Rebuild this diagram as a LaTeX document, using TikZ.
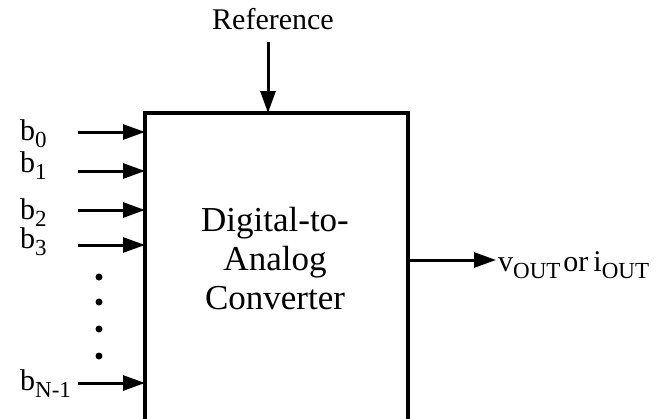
\documentclass[tikz,border=0pt]{standalone}
\usepackage{fontspec}
\setmainfont{Liberation Serif}
\usetikzlibrary{arrows.meta}
\newcommand{\lowsub}[1]{\raisebox{-7pt}{\fontsize{23}{23}\selectfont #1}}
\begin{document}
\begin{tikzpicture}[x=1pt,y=-1pt,
  inarrow/.style={line width=3pt,-{Triangle[length=22pt,width=15pt]}},
  lbl/.style={font=\fontsize{30}{30}\selectfont,inner sep=0pt},
  dotmark/.style={circle,fill=black,inner sep=0pt,minimum size=7pt}]
\useasboundingbox (0,0) rectangle (658,418);
\draw[line width=4.5pt] (145,430) -- (145,113) -- (408,113) -- (408,430);
\coordinate (boxtop) at (268,113);
\node[font=\fontsize{35}{39}\selectfont,align=center] (dac) at (275,259) {Digital-to-\\Analog\\Converter};
\node[lbl,anchor=base] (ref) at (273,29) {Reference};
\coordinate (reftop) at (268,42);
\draw[inarrow] (reftop) -- (boxtop);
\coordinate (i0) at (145,132);
\coordinate (i1) at (145,171);
\coordinate (i2) at (145,210);
\coordinate (i3) at (145,245);
\coordinate (iN) at (145,383);
\coordinate (s0) at (78,132);
\coordinate (s1) at (78,171);
\coordinate (s2) at (78,210);
\coordinate (s3) at (78,245);
\coordinate (sN) at (78,383);
\foreach \k in {0,1,2,3,N}{\draw[inarrow] (s\k) -- (i\k);}
\node[lbl,anchor=base west] (b0) at (20,140) {b\lowsub{0}};
\node[lbl,anchor=base west] (b1) at (20,172) {b\lowsub{1}};
\node[lbl,anchor=base west] (b2) at (20,219) {b\lowsub{2}};
\node[lbl,anchor=base west] (b3) at (20,248) {b\lowsub{3}};
\node[lbl,anchor=base west] (bN) at (20,390) {b\lowsub{N-1}};
\foreach \y [count=\i] in {277,302,329,356}{\node[dotmark] (d\i) at (99,\y) {};}
\coordinate (o1) at (408,260);
\coordinate (o2) at (496,260);
\draw[inarrow] (o1) -- (o2);
\node[lbl,anchor=base west] (out) at (498,271) {v\lowsub{OUT}\hspace{3pt}or\hspace{5pt}i\lowsub{OUT}};
\end{tikzpicture}
\end{document}
